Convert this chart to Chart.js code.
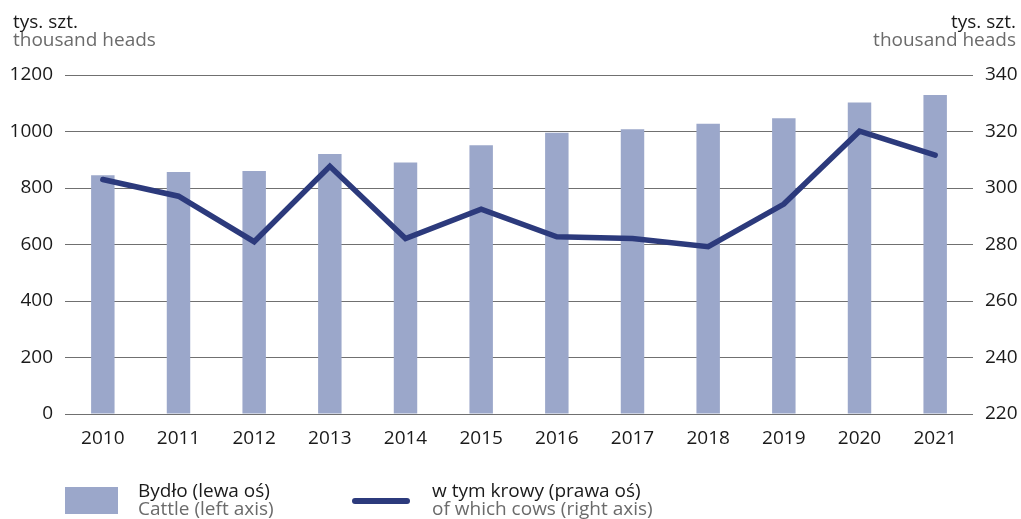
<!DOCTYPE html>
<html>
<head>
<meta charset="utf-8">
<script src="https://cdn.jsdelivr.net/npm/chart.js@4"></script>
<style>
  html, body { margin: 0; padding: 0; background: #fff; }
  #wrap { position: relative; width: 1021px; height: 519px; overflow: hidden; font-family: "Open Sans", sans-serif; }
  #c { position: absolute; left: 0; top: 0; }
  .t { position: absolute; font-size: 19px; line-height: 18px; white-space: nowrap; }
  .t .a { color: #1a1a1a; }
  .t .b { color: #6b6b6b; }
  .sw { position: absolute; }
</style>
</head>
<body>
<div id="wrap">
  <canvas id="c" width="1021" height="519"></canvas>
  <div class="t" style="left:13px; top:12px;"><div class="a">tys. szt.</div><div class="b">thousand heads</div></div>
  <div class="t" style="right:5px; top:12px; text-align:right;"><div class="a">tys. szt.</div><div class="b">thousand heads</div></div>
  <div class="sw" style="left:65px; top:487px; width:53px; height:27px; background:#9ba7ca;"></div>
  <div class="t" style="left:138px; top:481px;"><div class="a">Bydło (lewa oś)</div><div class="b">Cattle (left axis)</div></div>
  <div class="sw" style="left:352px; top:498px; width:58px; height:6px; border-radius:3px; background:#2c3a7c;"></div>
  <div class="t" style="left:432px; top:481px;"><div class="a">w tym krowy (prawa oś)</div><div class="b">of which cows (right axis)</div></div>
</div>
<script>
const years = ['2010','2011','2012','2013','2014','2015','2016','2017','2018','2019','2020','2021'];
const cattle = [845, 857, 860, 920, 890, 951, 996, 1008, 1027, 1047, 1103, 1129];
const cows = [303.0, 297.1, 281.0, 307.7, 282.1, 292.5, 282.7, 282.1, 279.2, 294.3, 320.1, 311.6];
const leftTicks = [0, 200, 400, 600, 800, 1000, 1200];
const rightTicks = [220, 240, 260, 280, 300, 320, 340];

const tickFont = { family: '"Open Sans", sans-serif', size: 19 };

new Chart(document.getElementById('c'), {
  data: {
    labels: years,
    datasets: [
      {
        type: 'line',
        label: 'w tym krowy (prawa oś)',
        data: cows,
        yAxisID: 'y1',
        borderColor: '#2c3a7c',
        backgroundColor: '#2c3a7c',
        borderWidth: 5.5,
        pointRadius: 0,
        tension: 0,
        borderCapStyle: 'round',
        borderJoinStyle: 'miter',
        order: 0
      },
      {
        type: 'bar',
        label: 'Bydło (lewa oś)',
        data: cattle,
        yAxisID: 'y',
        backgroundColor: '#9ba7ca',
        barPercentage: 0.31,
        categoryPercentage: 1,
        order: 1
      }
    ]
  },
  options: {
    responsive: false,
    animation: false,
    devicePixelRatio: 1,
    layout: { padding: { top: 75, bottom: 0, left: 0, right: 0 } },
    plugins: { legend: { display: false }, tooltip: { enabled: false } },
    scales: {
      x: {
        grid: { display: false, drawTicks: false },
        border: { display: false },
        ticks: { color: '#1a1a1a', font: tickFont, padding: 13, maxRotation: 0 },
        afterFit: s => { s.height = 105; }
      },
      y: {
        position: 'left',
        min: 0, max: 1200,
        afterBuildTicks: s => { s.ticks = leftTicks.map(v => ({ value: v })); },
        grid: { color: '#707070', lineWidth: 1, drawTicks: false },
        border: { display: false },
        ticks: { color: '#1a1a1a', font: tickFont, padding: 12, callback: v => String(v) },
        afterFit: s => { s.width = 65; }
      },
      y1: {
        position: 'right',
        min: 220, max: 340,
        afterBuildTicks: s => { s.ticks = rightTicks.map(v => ({ value: v })); },
        grid: { drawOnChartArea: false, drawTicks: false },
        border: { display: false },
        ticks: { color: '#1a1a1a', font: tickFont, padding: 12, callback: v => String(v) },
        afterFit: s => { s.width = 48; }
      }
    }
  }
});
</script>
</body>
</html>
